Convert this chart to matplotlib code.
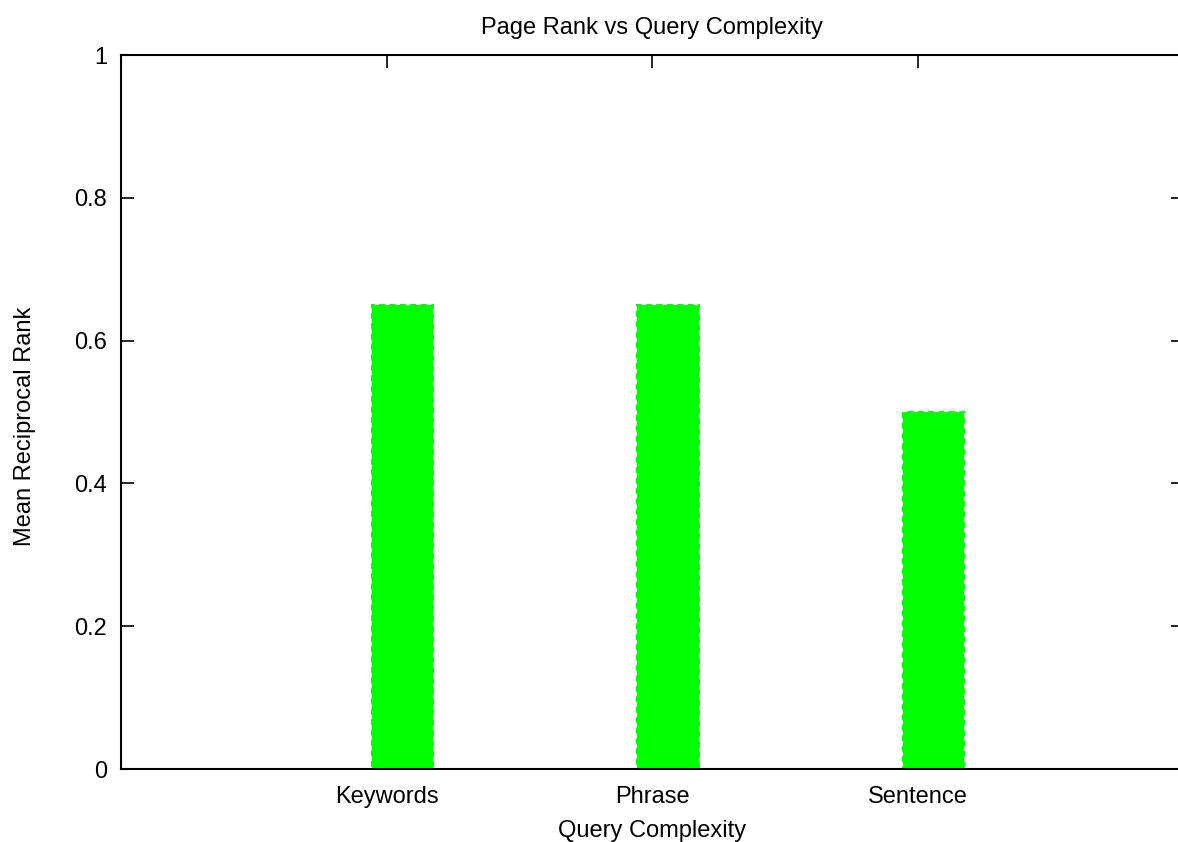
import matplotlib
matplotlib.use("Agg")
import matplotlib.pyplot as plt

plt.rcParams['font.family'] = ['Liberation Sans', 'DejaVu Sans']

categories = ["Keywords", "Phrase", "Sentence"]
mrr = [0.65, 0.65, 0.50]
yticks = [0, 0.2, 0.4, 0.6, 0.8, 1]
ytick_labels = ["0", "0.2", "0.4", "0.6", "0.8", "1"]

fig = plt.figure(figsize=(11.78, 8.42), dpi=100)
ax = fig.add_axes([121 / 1178, 73 / 842, 1062 / 1178, 714 / 842])

pos = list(range(len(categories)))
bar_pos = [p + 0.06 for p in pos]
# solid fill, then a dashed outline on top like gnuplot's border
ax.bar(bar_pos, mrr, width=0.232, color="#00ff00", linewidth=0, zorder=2)
ax.bar(bar_pos, mrr, width=0.232, fill=False, edgecolor="#00ff00",
       linestyle=(0, (3, 2)), linewidth=1.5, zorder=3)

ax.set_xlim(-1, 3)
ax.set_ylim(0, 1)
ax.set_xticks(pos)
ax.set_xticklabels(categories)
ax.set_yticks(yticks)
ax.set_yticklabels(ytick_labels)

ax.tick_params(direction="in", length=9, width=1.2, labelsize=17, pad=12,
               top=True, right=True, colors="black")
ax.tick_params(axis="y", pad=10)
for s in ax.spines.values():
    s.set_linewidth(1.5)
    s.set_zorder(4)

ax.set_xlabel("Query Complexity", fontsize=17, labelpad=9)
ax.set_ylabel("Mean Reciprocal Rank", fontsize=17)
ax.yaxis.set_label_coords(-0.08, 0.48)
ax.set_title("Page Rank vs Query Complexity", fontsize=17, pad=15)

fig.savefig("out.png", dpi=100)
